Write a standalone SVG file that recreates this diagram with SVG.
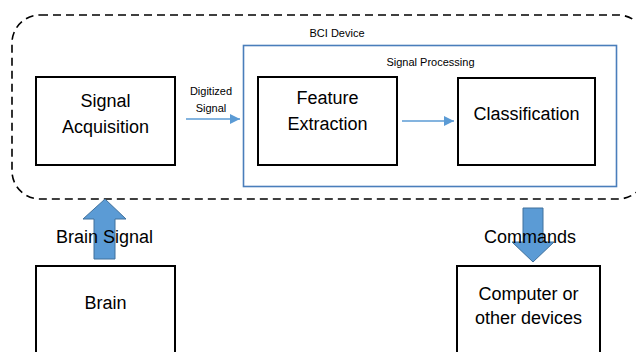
<svg xmlns="http://www.w3.org/2000/svg" width="636" height="352" viewBox="0 0 636 352">
<defs>
<style>
text{font-family:"Liberation Sans",Arial,sans-serif;fill:#000;text-anchor:middle}
.big{font-size:18px}
.small{font-size:11px}
.box{fill:#fff;stroke:#000;stroke-width:2}
.thin{stroke:#5b9bd5;stroke-width:1.3;fill:none}
.fat{fill:#5b9bd5;stroke:#41719c;stroke-width:1}
</style>
<marker id="ah" viewBox="0 0 10 10" refX="10" refY="5" markerWidth="10" markerHeight="10" markerUnits="userSpaceOnUse" orient="auto">
<path d="M0,0 L10,5 L0,10 Z" fill="#5b9bd5"/>
</marker>
</defs>
<g id="bci-device">
<rect x="12" y="15" width="634" height="184" rx="28" ry="28" fill="none" stroke="#000" stroke-width="1.6" stroke-dasharray="8,5"/>
<text class="small" x="337" y="37">BCI Device</text>
</g>
<g id="signal-processing">
<rect x="243.5" y="45.5" width="373" height="141" fill="none" stroke="#4a7ebb" stroke-width="1.6"/>
<text class="small" x="430.5" y="66">Signal Processing</text>
</g>
<g id="signal-acquisition">
<rect class="box" x="36" y="77" width="139" height="88"/>
<text class="big" x="105.5" y="107">Signal</text>
<text class="big" x="105.5" y="133">Acquisition</text>
</g>
<g id="feature-extraction">
<rect class="box" x="258" y="77" width="139" height="88"/>
<text class="big" x="327.5" y="104">Feature</text>
<text class="big" x="327.5" y="130">Extraction</text>
</g>
<g id="classification">
<rect class="box" x="458" y="78" width="137" height="87"/>
<text class="big" x="526.5" y="120">Classification</text>
</g>
<g id="brain">
<rect class="box" x="36" y="266" width="139" height="100"/>
<text class="big" x="105.5" y="309">Brain</text>
</g>
<g id="computer">
<rect class="box" x="457" y="266" width="143" height="100"/>
<text class="big" x="528.5" y="300">Computer or</text>
<text class="big" x="528.5" y="324">other devices</text>
</g>
<g id="connectors">
<line class="thin" x1="186" y1="119" x2="240" y2="119" marker-end="url(#ah)"/>
<text class="small" x="211" y="95">Digitized</text>
<text class="small" x="211" y="112">Signal</text>
<line class="thin" x1="402" y1="121" x2="454" y2="121" marker-end="url(#ah)"/>
<path class="fat" d="M105,199 L126,219 L115,219 L115,259 L94,259 L94,219 L83,219 Z"/>
<text class="big" x="104.5" y="243">Brain Signal</text>
<path class="fat" d="M523,208 L543,208 L543,242 L554,242 L533,262 L512,242 L523,242 Z"/>
<text class="big" x="530" y="243">Commands</text>
</g>
</svg>
